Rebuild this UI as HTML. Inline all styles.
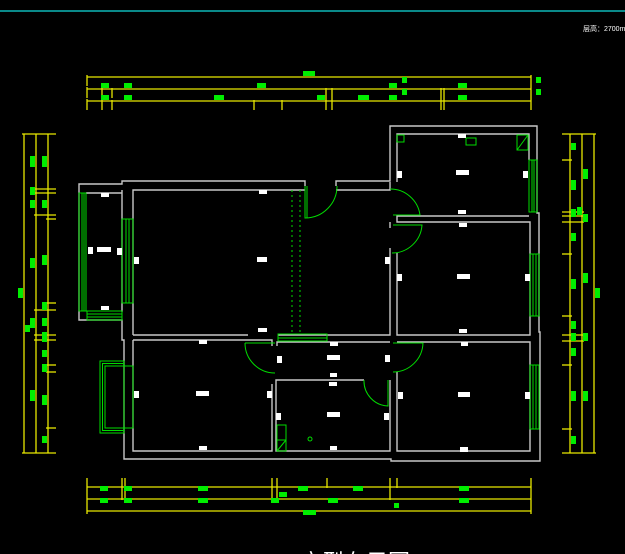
<!DOCTYPE html>
<html><head><meta charset="utf-8"><style>
html,body{margin:0;padding:0;background:#000;}
svg{display:block}
</style></head><body>
<svg width="625" height="554" viewBox="0 0 625 554" xmlns="http://www.w3.org/2000/svg" font-family="Liberation Sans, Noto Sans CJK SC, sans-serif">
<rect width="625" height="554" fill="#000"/>
<line x1="0" y1="11" x2="625" y2="11" stroke="#0a8a8a" stroke-width="2"/>
<text x="583" y="31" fill="#fff" font-size="7">层高：2700mm</text>

<g stroke="#e8e800" stroke-width="1.3" fill="none">
<line x1="87" y1="77" x2="531" y2="77"/><line x1="87" y1="89" x2="531" y2="89"/><line x1="87" y1="101" x2="531" y2="101"/>
<line x1="87" y1="75" x2="87" y2="86"/><line x1="87" y1="87" x2="87" y2="98"/><line x1="87" y1="99" x2="87" y2="110"/>
<line x1="102" y1="88" x2="102" y2="98"/><line x1="102" y1="100" x2="102" y2="110"/>
<line x1="112" y1="88" x2="112" y2="98"/><line x1="112" y1="100" x2="112" y2="110"/>
<line x1="254" y1="100" x2="254" y2="110"/><line x1="282" y1="100" x2="282" y2="110"/>
<line x1="326" y1="88" x2="326" y2="110"/><line x1="332" y1="88" x2="332" y2="110"/>
<line x1="441" y1="88" x2="441" y2="110"/><line x1="444" y1="88" x2="444" y2="110"/>
<line x1="531" y1="75" x2="531" y2="110"/>
<line x1="87" y1="487" x2="531" y2="487"/><line x1="87" y1="499" x2="531" y2="499"/><line x1="87" y1="511" x2="531" y2="511"/>
<line x1="87" y1="478" x2="87" y2="514"/><line x1="272" y1="478" x2="272" y2="500"/><line x1="277" y1="478" x2="277" y2="500"/>
<line x1="327" y1="478" x2="327" y2="488"/><line x1="390" y1="478" x2="390" y2="500"/><line x1="397" y1="478" x2="397" y2="488"/>
<line x1="531" y1="478" x2="531" y2="514"/><line x1="122" y1="478" x2="122" y2="500"/><line x1="125" y1="478" x2="125" y2="500"/>
<line x1="24" y1="134" x2="24" y2="453"/><line x1="36" y1="134" x2="36" y2="453"/><line x1="48" y1="134" x2="48" y2="453"/>
<line x1="22" y1="134" x2="56" y2="134"/><line x1="22" y1="453" x2="56" y2="453"/>
<line x1="34" y1="189" x2="56" y2="189"/><line x1="34" y1="193" x2="56" y2="193"/><line x1="34" y1="215" x2="56" y2="215"/><line x1="46" y1="219" x2="56" y2="219"/>
<line x1="34" y1="310" x2="56" y2="310"/><line x1="46" y1="303" x2="56" y2="303"/><line x1="34" y1="335" x2="56" y2="335"/><line x1="34" y1="340" x2="56" y2="340"/>
<line x1="46" y1="365" x2="56" y2="365"/><line x1="46" y1="372" x2="56" y2="372"/><line x1="46" y1="428" x2="56" y2="428"/>
<line x1="570" y1="134" x2="570" y2="453"/><line x1="582" y1="134" x2="582" y2="453"/><line x1="594" y1="134" x2="594" y2="453"/>
<line x1="562" y1="134" x2="596" y2="134"/><line x1="562" y1="453" x2="596" y2="453"/>
<line x1="562" y1="160" x2="572" y2="160"/><line x1="562" y1="212" x2="584" y2="212"/><line x1="562" y1="216" x2="584" y2="216"/><line x1="562" y1="222" x2="584" y2="222"/>
<line x1="562" y1="254" x2="572" y2="254"/><line x1="562" y1="316" x2="572" y2="316"/><line x1="562" y1="335" x2="584" y2="335"/><line x1="562" y1="341" x2="584" y2="341"/>
<line x1="562" y1="365" x2="572" y2="365"/><line x1="562" y1="429" x2="572" y2="429"/>
</g>
<g fill="#00ee00">
<rect x="303" y="71" width="12" height="5"/>
<rect x="101" y="83" width="8" height="5"/><rect x="124" y="83" width="8" height="5"/><rect x="257" y="83" width="9" height="5"/><rect x="389" y="83" width="8" height="5"/><rect x="458" y="83" width="9" height="5"/><rect x="402" y="77" width="5" height="6"/><rect x="536" y="77" width="5" height="6"/>
<rect x="101" y="95" width="8" height="5"/><rect x="124" y="95" width="8" height="5"/><rect x="214" y="95" width="10" height="5"/><rect x="317" y="95" width="8" height="5"/><rect x="358" y="95" width="11" height="5"/><rect x="389" y="95" width="8" height="5"/><rect x="458" y="95" width="9" height="5"/><rect x="402" y="89" width="5" height="6"/><rect x="536" y="89" width="5" height="6"/>
<rect x="100" y="486" width="8" height="5"/><rect x="124" y="486" width="8" height="5"/><rect x="198" y="486" width="10" height="5"/><rect x="298" y="486" width="10" height="5"/><rect x="353" y="486" width="10" height="5"/><rect x="459" y="486" width="10" height="5"/>
<rect x="100" y="498" width="8" height="5"/><rect x="124" y="498" width="8" height="5"/><rect x="198" y="498" width="10" height="5"/><rect x="271" y="498" width="8" height="5"/><rect x="328" y="498" width="10" height="5"/><rect x="459" y="498" width="10" height="5"/>
<rect x="303" y="510" width="13" height="5"/><rect x="279" y="492" width="8" height="5"/><rect x="394" y="503" width="5" height="5"/>
<rect x="18" y="288" width="5" height="10"/>
<rect x="30" y="156" width="5" height="11"/><rect x="30" y="187" width="5" height="8"/><rect x="30" y="200" width="5" height="8"/><rect x="30" y="258" width="5" height="10"/><rect x="30" y="318" width="5" height="10"/><rect x="30" y="390" width="5" height="11"/><rect x="25" y="325" width="5" height="7"/>
<rect x="42" y="156" width="5" height="11"/><rect x="42" y="200" width="5" height="8"/><rect x="42" y="255" width="5" height="10"/><rect x="42" y="302" width="5" height="8"/><rect x="42" y="318" width="5" height="8"/><rect x="42" y="332" width="5" height="10"/><rect x="42" y="350" width="5" height="7"/><rect x="42" y="364" width="5" height="8"/><rect x="42" y="395" width="5" height="10"/><rect x="42" y="436" width="5" height="7"/>
<rect x="571" y="143" width="5" height="7"/><rect x="571" y="180" width="5" height="10"/><rect x="571" y="209" width="5" height="8"/><rect x="571" y="233" width="5" height="8"/><rect x="571" y="279" width="5" height="10"/><rect x="571" y="321" width="5" height="8"/><rect x="571" y="333" width="5" height="8"/><rect x="571" y="348" width="5" height="8"/><rect x="571" y="391" width="5" height="10"/><rect x="571" y="436" width="5" height="8"/>
<rect x="583" y="169" width="5" height="10"/><rect x="583" y="214" width="5" height="8"/><rect x="583" y="273" width="5" height="10"/><rect x="583" y="333" width="5" height="8"/><rect x="583" y="391" width="5" height="10"/><rect x="577" y="207" width="5" height="8"/>
<rect x="595" y="288" width="5" height="10"/>
</g>

<g stroke="#c8c8c8" stroke-width="1.4" fill="none">
<path d="M305,186 V181 H122 V184 H79 V320 H122 V340 H124 V459 H391 V461 H540 V332 H539 V213 H537 V126 H390 V181 H336 V186"/>
<path d="M122,190 V312 M86,193 H122"/>
<path d="M133,335 V190 H305 M336,190 H390 V182 M397,182 V134 H529 V160 M529,216 H397 V222 H530 V335 H397 V253 M390,253 V335 H278 M133,335 H248"/>
<path d="M133,340 H272 V346 M277,346 V342 H390 M397,342 H530 V451 H397 V372 M390,380 V451 H276 V380 H364 M272,384 V451 H133 V340"/>
<path d="M390,222 V228 M390,253 V248"/>
</g>

<g stroke="#00dd00" stroke-width="1" fill="none">
<rect x="79" y="193" width="7" height="118"/><line x1="82" y1="193" x2="82" y2="311"/><line x1="84" y1="193" x2="84" y2="311"/>
<rect x="87" y="311" width="35" height="9"/><line x1="87" y1="314" x2="122" y2="314"/><line x1="87" y1="317" x2="122" y2="317"/>
<rect x="122" y="219" width="11" height="84"/><line x1="126" y1="219" x2="126" y2="303"/><line x1="129" y1="219" x2="129" y2="303"/>
<rect x="100" y="361" width="24" height="72"/><rect x="102.5" y="363.5" width="21.5" height="67"/><rect x="105" y="366" width="28" height="62"/>
<rect x="278" y="334" width="49" height="7"/><line x1="278" y1="338" x2="327" y2="338"/>
<rect x="529" y="160" width="8" height="52"/><line x1="532" y1="160" x2="532" y2="212"/><line x1="534" y1="160" x2="534" y2="212"/>
<rect x="530" y="254" width="9" height="62"/><line x1="533" y1="254" x2="533" y2="316"/><line x1="536" y1="254" x2="536" y2="316"/>
<rect x="530" y="365" width="9" height="64"/><line x1="533" y1="365" x2="533" y2="429"/><line x1="536" y1="365" x2="536" y2="429"/>
<path d="M305,186 V218 A32,32 0 0 0 337,186"/><line x1="307" y1="186" x2="307" y2="218"/>
<path d="M393,215 H420 A30,30 0 0 0 390,189"/>
<path d="M393,225 H422 A30,30 0 0 1 392,253"/>
<path d="M245,343 H275 M245,343 A30,30 0 0 0 275,373"/>
<path d="M393,343 H423 A30,30 0 0 1 393,372"/>
<path d="M388,380 V406 A25,25 0 0 1 364,380"/>
<line x1="292" y1="190" x2="292" y2="334" stroke-dasharray="2,3"/><line x1="300" y1="190" x2="300" y2="334" stroke-dasharray="2,3"/>
<rect x="397" y="135" width="7" height="7"/><rect x="466" y="138" width="10" height="7"/>
<rect x="517" y="135" width="11" height="15"/><line x1="517" y1="150" x2="528" y2="135"/>
<rect x="277" y="425" width="9" height="15"/><rect x="277" y="440" width="9" height="11"/><line x1="277" y1="451" x2="286" y2="440"/>
<circle cx="310" cy="439" r="2"/>
</g>

<g fill="#fff">
<rect x="101" y="193" width="8" height="4"/><rect x="97" y="247" width="14" height="5"/><rect x="88" y="247" width="5" height="7"/><rect x="117" y="248" width="5" height="7"/><rect x="101" y="306" width="8" height="4"/>
<rect x="259" y="190" width="8" height="4"/><rect x="257" y="257" width="10" height="5"/><rect x="134" y="257" width="5" height="7"/><rect x="258" y="328" width="9" height="4"/>
<rect x="458" y="134" width="8" height="4"/><rect x="456" y="170" width="13" height="5"/><rect x="397" y="171" width="5" height="7"/><rect x="523" y="171" width="5" height="7"/><rect x="458" y="210" width="8" height="4"/>
<rect x="459" y="223" width="8" height="4"/><rect x="457" y="274" width="13" height="5"/><rect x="397" y="274" width="5" height="7"/><rect x="525" y="274" width="5" height="7"/><rect x="459" y="329" width="8" height="4"/><rect x="385" y="257" width="5" height="7"/>
<rect x="199" y="340" width="8" height="4"/><rect x="196" y="391" width="13" height="5"/><rect x="134" y="391" width="5" height="7"/><rect x="267" y="391" width="5" height="7"/><rect x="199" y="446" width="8" height="4"/>
<rect x="330" y="342" width="8" height="4"/><rect x="327" y="355" width="13" height="5"/><rect x="277" y="356" width="5" height="7"/><rect x="385" y="355" width="5" height="7"/><rect x="330" y="373" width="7" height="4"/>
<rect x="329" y="382" width="8" height="4"/><rect x="327" y="412" width="13" height="5"/><rect x="276" y="413" width="5" height="7"/><rect x="384" y="413" width="5" height="7"/><rect x="330" y="446" width="7" height="4"/>
<rect x="461" y="342" width="7" height="4"/><rect x="458" y="392" width="12" height="5"/><rect x="398" y="392" width="5" height="7"/><rect x="525" y="392" width="5" height="7"/><rect x="460" y="447" width="8" height="5"/>
</g>
<text x="300" y="570" fill="#fff" font-size="22">户型布局图</text>
</svg>
</body></html>
